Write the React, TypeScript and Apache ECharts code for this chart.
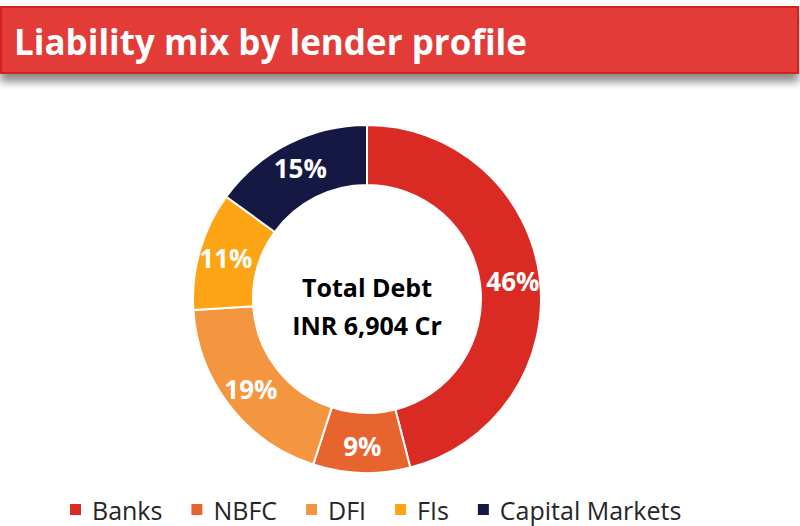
import React, { useEffect, useRef } from "react";
import * as echarts from "echarts";

const titleText = "Liability mix by lender profile";
const categories = ["Banks", "NBFC", "DFI", "FIs", "Capital Markets"];
const shares = [46, 9, 19, 11, 15];
const colors = ["#D92B24", "#E8642F", "#F4963F", "#FCA414", "#141843"];
const centerLines = ["Total Debt", "INR 6,904 Cr"];

const FONT = "'Open Sans'";

export default function App() {
  const ref = useRef<HTMLDivElement>(null);
  useEffect(() => {
    document.body.style.margin = "0";
    if (!ref.current) return;
    const chart = echarts.init(ref.current, null, { renderer: "svg" });
    chart.setOption({
      animation: false,
      backgroundColor: "#ffffff",
      graphic: [
        {
          type: "rect",
          shape: { x: 1, y: 7, width: 797, height: 66 },
          style: {
            fill: "#E23B38",
            stroke: "#D5231F",
            lineWidth: 2,
            shadowBlur: 8,
            shadowOffsetY: 8,
            shadowColor: "rgba(0,0,0,0.45)",
          },
        },
        {
          type: "text",
          x: 14,
          y: 41,
          style: {
            text: titleText,
            fill: "#ffffff",
            font: `bold 35px ${FONT}`,
            textVerticalAlign: "middle",
          },
        },
        {
          type: "text",
          x: 367,
          y: 287,
          style: {
            text: centerLines[0],
            fill: "#000000",
            font: `bold 25px ${FONT}`,
            textAlign: "center",
            textVerticalAlign: "middle",
          },
        },
        {
          type: "text",
          x: 367,
          y: 325,
          style: {
            text: centerLines[1],
            fill: "#000000",
            font: `bold 25px ${FONT}`,
            textAlign: "center",
            textVerticalAlign: "middle",
          },
        },
      ],
      legend: {
        top: 497,
        left: 68,
        padding: 0,
        icon: "rect",
        itemWidth: 13,
        itemHeight: 13,
        itemGap: 27,
        textStyle: {
          fontFamily: "Open Sans",
          fontSize: 25,
          color: "#262626",
          padding: [0, 0, 0, 5],
        },
        data: categories,
      },
      series: [
        {
          type: "pie",
          center: [367, 299],
          radius: [114, 174],
          startAngle: 90,
          clockwise: true,
          itemStyle: { borderColor: "#ffffff", borderWidth: 2 },
          label: {
            position: "inside",
            formatter: "{c}%",
            color: "#ffffff",
            fontFamily: "Open Sans",
            fontWeight: "bold",
            fontSize: 26,
          },
          labelLine: { show: false },
          emphasis: { disabled: true },
          data: categories.map((name, i) => ({
            name,
            value: shares[i],
            itemStyle: { color: colors[i] },
          })),
        },
      ],
    });
    return () => chart.dispose();
  }, []);
  return <div ref={ref} style={{ width: 800, height: 526 }} />;
}
